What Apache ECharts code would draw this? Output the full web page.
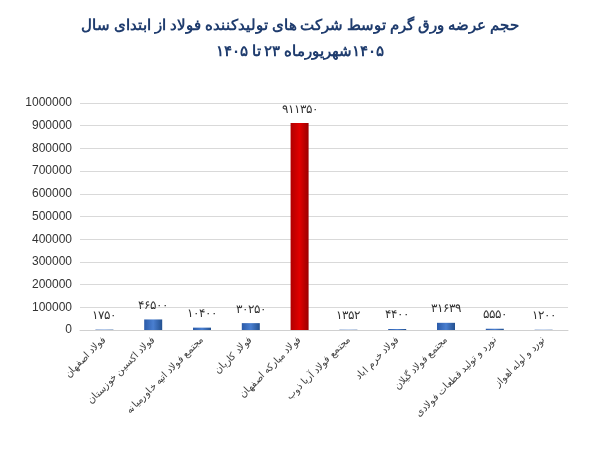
<!DOCTYPE html>
<html><head><meta charset="utf-8">
<script src="https://cdn.jsdelivr.net/npm/echarts@6/dist/echarts.min.js"></script>
<style>body{margin:0;background:#fff}#c{width:600px;height:451px}</style></head>
<body><div id="c"></div>
<script>
const categories = ["فولاد اصفهان","فولاد اکسین خوزستان","مجتمع فولاد اتیه خاورمیانه","فولاد کاریان","فولاد مبارکه اصفهان","مجتمع فولاد آریا ذوب","فولاد خرم اباد","مجتمع فولاد گیلان","نورد و تولید قطعات فولادی","نورد و لوله اهواز"];
const values = [1750,46500,10400,30250,911350,1352,4400,31639,5550,1200];
const highlightIndex = 4;
const fa = s => String(s).replace(/\d/g, d => "۰۱۲۳۴۵۶۷۸۹"[d]);
const chart = echarts.init(document.getElementById('c'));
chart.setOption({
  animation:false,
  title:{text:"{t|حجم عرضه ورق گرم توسط شرکت های تولیدکننده فولاد از ابتدای سال}\n{t|۱۴۰۵} {t|تا} {t|۲۳} {t|شهریورماه}{t|۱۴۰۵}",left:'center',top:8,
    textStyle:{fontFamily:'Noto Sans',fontSize:15,fontWeight:'bold',color:'#1f3c6e',lineHeight:26,
      rich:{t:{fontFamily:'Noto Sans',fontSize:15,fontWeight:'bold',color:'#1f3c6e',lineHeight:26}}}},
  grid:{left:80,right:32,top:103,bottom:121},
  xAxis:{type:'category',data:categories,axisTick:{show:false},axisLine:{lineStyle:{color:'#d0d0d0'}},
    axisLabel:{rotate:45,interval:0,fontFamily:'Noto Sans',fontSize:10,color:'#444'}},
  yAxis:{type:'value',min:0,max:1000000,interval:100000,
    axisLabel:{fontFamily:'Liberation Sans',fontSize:12,color:'#333',formatter:v=>String(v)},
    splitLine:{lineStyle:{color:'#d9d9d9'}}},
  series:[{type:'bar',barWidth:18,
    data:values.map((v,i)=>({value:v,itemStyle:{color:i===highlightIndex?
      new echarts.graphic.LinearGradient(0,0,1,0,[{offset:0,color:'#b00000'},{offset:0.5,color:'#e00000'},{offset:1,color:'#9a0000'}]):
      new echarts.graphic.LinearGradient(0,0,1,0,[{offset:0,color:'#2a5aa8'},{offset:0.5,color:'#4a7fd0'},{offset:1,color:'#23508f'}])}})),
    label:{show:true,position:'top',distance:8,formatter:p=>fa(p.value),fontFamily:'Noto Sans',fontSize:12,color:'#333'}}]
});
</script></body></html>
